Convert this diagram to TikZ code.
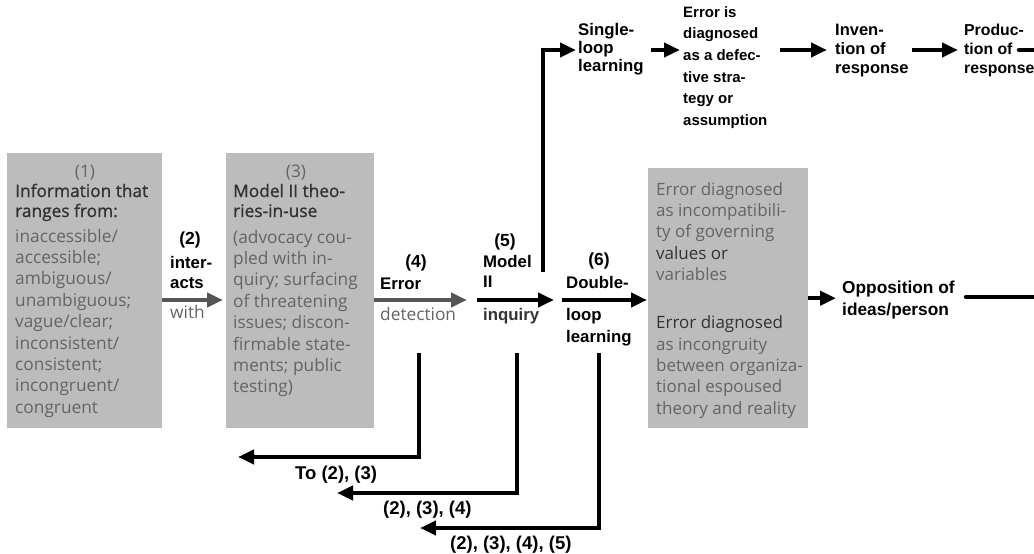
\documentclass[tikz,border=0pt]{standalone}
\usepackage{fontspec}
\setmainfont{Open Sans}
\newfontfamily\semib[FakeBold=1]{Open Sans}
\newfontfamily\labelfont{Liberation Sans}
\usetikzlibrary{arrows.meta}
\definecolor{boxgray}{RGB}{188,188,188}
\definecolor{textgray}{RGB}{100,100,100}
\definecolor{textdark}{RGB}{50,50,50}
\definecolor{arrowgray}{RGB}{85,85,85}
\begin{document}
\begin{tikzpicture}[x=1pt,y=-1pt,
  box/.style={fill=boxgray, draw=none, inner sep=0pt, anchor=north west},
  % multi-line texts are placed by the baseline of their last line
  bodytxt/.style={anchor=base west, inner sep=0pt, align=left, text=textgray,
    font=\fontsize{17.3}{21.4}\selectfont},
  darktxt/.style={bodytxt, text=textdark, font=\semib\fontsize{17.3}{20}\selectfont},
  numtxt/.style={anchor=base, inner sep=0pt, text=textgray, font=\fontsize{17.3}{20}\selectfont},
  lbl/.style={anchor=base west, inner sep=0pt, align=left,
    font=\labelfont\bfseries\fontsize{16.8}{20}\selectfont},
  lblc/.style={lbl, anchor=base, font=\labelfont\bfseries\fontsize{17.5}{20}\selectfont},
  fblbl/.style={lbl, font=\labelfont\bfseries\fontsize{18.5}{20}\selectfont},
  flow/.style={line width=4.5pt, -{Triangle[length=16pt,width=14pt]}},
  grayflow/.style={flow, draw=arrowgray},
  plainline/.style={line width=4.5pt, line cap=round}]
\useasboundingbox (0,0) rectangle (1034,554);

% shaded boxes
\node[box, minimum width=155pt, minimum height=275pt] (b1) at (7,153) {};
\node[box, minimum width=148pt, minimum height=275pt] (b3) at (226,153) {};
\node[box, minimum width=160pt, minimum height=260pt] (b6) at (648,168) {};

% box (1)
\node[numtxt] (n1) at (85,177) {(1)};
\node[darktxt] (t1a) at (15,217) {Information that\\ranges from:};
\node[bodytxt] (t1b) at (15,413.2) {inaccessible/\\accessible;\\ambiguous/\\unambiguous;\\vague/clear;\\inconsistent/\\consistent;\\incongruent/\\congruent};

% box (3)
\node[numtxt] (n3) at (296,177) {(3)};
\node[darktxt] (t3a) at (233,217) {Model II theo-\\ries-in-use};
\node[bodytxt] (t3b) at (233,392.8) {(advocacy cou-\\pled with in-\\quiry; surfacing\\of threatening\\issues; discon-\\firmable state-\\ments; public\\testing)};

% box of double-loop diagnoses
\node[bodytxt, font=\fontsize{17}{21.4}\selectfont] (t6) at (656,414.2) {Error diagnosed\\as incompatibili-\\ty of governing\\\textcolor{textdark}{values or}\\variables\\[26.6pt]\textcolor{textdark}{Error diagnosed}\\as incongruity\\between organiza-\\tional espoused\\theory and reality};

% labels of the main row
\node[lblc] (n2) at (190,244) {(2)};
\node[lbl] (l2) at (170,288) {inter-\\acts};
\node[bodytxt] (w2) at (170,318) {with};
\node[lblc] (n4) at (416,267) {(4)};
\node[lbl] (l4) at (380,289) {Error};
\node[bodytxt] (d4) at (380,320) {detection};
\node[lblc] (n5) at (505,246) {(5)};
\node[lbl] (l5) at (483,287) {Model\\II};
\node[lbl, text=textdark] (q5) at (483,320) {inquiry};
\node[lblc] (n6) at (599,265) {(6)};
\node[lbl] (l6) at (566,288) {Double-};
\node[lbl, font=\labelfont\bfseries\fontsize{16.8}{22}\selectfont] (d6) at (566,342) {loop\\learning};

% single-loop chain
\node[lbl, font=\labelfont\bfseries\fontsize{16.8}{18}\selectfont] (single) at (578,71) {Single-\\loop\\learning};
\node[lbl, font=\labelfont\bfseries\fontsize{15}{21.7}\selectfont] (errdiag) at (683,125.5) {Error is\\diagnosed\\as a defec-\\tive stra-\\tegy or\\assumption};
\node[lbl, font=\labelfont\bfseries\fontsize{16.5}{19}\selectfont] (inven) at (835,73) {Inven-\\tion of\\response};
\node[lbl, font=\labelfont\bfseries\fontsize{15.8}{19}\selectfont] (produc) at (964,73) {Produc-\\tion of\\response};
\node[lbl, font=\labelfont\bfseries\fontsize{17.3}{22}\selectfont] (oppo) at (842,315) {Opposition of\\ideas/person};

% feedback labels
\node[fblbl] (fbA) at (295,479) {To (2), (3)};
\node[fblbl] (fbB) at (383,514) {(2), (3), (4)};
\node[fblbl] (fbC) at (450,549) {(2), (3), (4), (5)};

% reference rows and free ends
\coordinate (row) at (0,300);
\coordinate (toprow) at (0,50);
\coordinate (detend) at (467,300);
\coordinate (inqstart) at (477,300);
\coordinate (inqend) at (554,300);
\coordinate (dblstart) at (562,300);
\coordinate (branch) at (543,272);
\coordinate (stubA) at (1019,50);
\coordinate (stubB) at (1034,50);
\coordinate (oppoA) at (966,297);
\coordinate (oppoB) at (1034,297);
\coordinate (fbAtop) at (419,353);
\coordinate (fbAend) at (238,457);
\coordinate (fbBtop) at (517,353);
\coordinate (fbBend) at (337,493);
\coordinate (fbCtop) at (599,353);
\coordinate (fbCend) at (420,528);

% main row
\draw[grayflow] (b1.east |- row) -- ([xshift=-3pt]b3.west |- row);
\draw[grayflow] (b3.east |- row) -- (detend);
\draw[flow] (inqstart) -- (inqend);
\draw[flow] (dblstart) -- ([xshift=-1pt]b6.west |- row);

% single-loop branch
\draw[flow] (branch) |- ([xshift=-2pt]single.west |- toprow);
\draw[flow] ([xshift=7pt]single.east |- toprow) -- ([xshift=-3pt]errdiag.west |- toprow);
\draw[flow] ([xshift=12pt]errdiag.east |- toprow) -- ([xshift=-8pt]inven.west |- toprow);
\draw[flow] ([xshift=3pt]inven.east |- toprow) -- ([xshift=-6pt]produc.west |- toprow);
\draw[plainline] (stubA) -- (stubB);

% double-loop outcome
\draw[flow] (b6.east) -- ([xshift=-6pt]oppo.west |- b6.east);
\draw[plainline] (oppoA) -- (oppoB);

% feedback loops
\draw[flow] (fbAtop) |- (fbAend);
\draw[flow] (fbBtop) |- (fbBend);
\draw[flow] (fbCtop) |- (fbCend);
\end{tikzpicture}
\end{document}
